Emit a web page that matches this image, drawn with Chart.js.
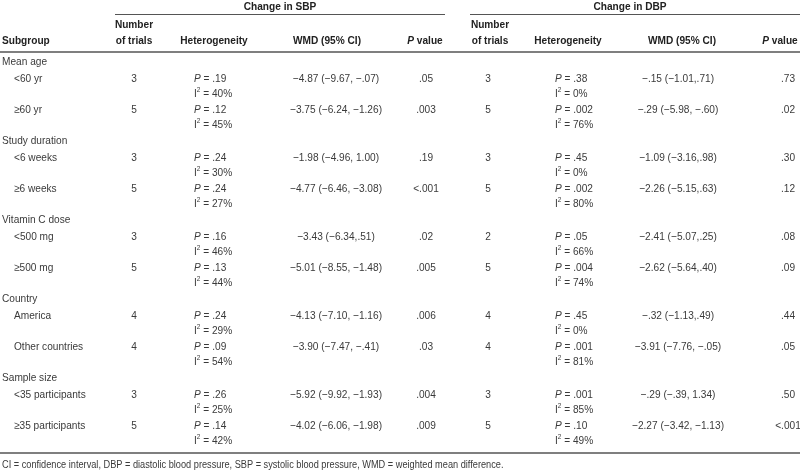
<!DOCTYPE html>
<html>
<head>
<meta charset="utf-8">
<script src="https://cdn.jsdelivr.net/npm/chart.js@4"></script>
<style>
  html, body { margin: 0; padding: 0; background: #fff; }
  #wrap { width: 800px; height: 472px; position: relative; }
</style>
</head>
<body>
<div id="wrap"><canvas id="chart"></canvas></div>
<script>
'use strict';

// table content
const groups = ['Mean age', 'Study duration', 'Vitamin C dose', 'Country', 'Sample size'];
const subgroups = ['<60 yr', '≥60 yr', '<6 weeks', '≥6 weeks', '<500 mg', '≥500 mg',
    'America', 'Other countries', '<35 participants', '≥35 participants'];

const sbpTrials = [3, 5, 3, 5, 3, 5, 4, 4, 3, 5];
const sbpHetP = ['.19', '.12', '.24', '.24', '.16', '.13', '.24', '.09', '.26', '.14'];
const sbpI2 = [40, 45, 30, 27, 46, 44, 29, 54, 25, 42];
const sbpWmd = [-4.87, -3.75, -1.98, -4.77, -3.43, -5.01, -4.13, -3.90, -5.92, -4.02];
const sbpLow = [-9.67, -6.24, -4.96, -6.46, -6.34, -8.55, -7.10, -7.47, -9.92, -6.06];
const sbpHigh = [-0.07, -1.26, 1.00, -3.08, 0.51, -1.48, -1.16, -0.41, -1.93, -1.98];
const sbpP = ['.05', '.003', '.19', '<.001', '.02', '.005', '.006', '.03', '.004', '.009'];

const dbpTrials = [3, 5, 3, 5, 2, 5, 4, 4, 3, 5];
const dbpHetP = ['.38', '.002', '.45', '.002', '.05', '.004', '.45', '.001', '.001', '.10'];
const dbpI2 = [0, 76, 0, 80, 66, 74, 0, 81, 85, 49];
const dbpWmd = [-0.15, -0.29, -1.09, -2.26, -2.41, -2.62, -0.32, -3.91, -0.29, -2.27];
const dbpLow = [-1.01, -5.98, -3.16, -5.15, -5.07, -5.64, -1.13, -7.76, -0.39, -3.42];
const dbpHigh = [0.71, -0.60, 0.98, 0.63, 0.25, 0.40, 0.49, -0.05, 1.34, -1.13];
const dbpP = ['.73', '.02', '.30', '.12', '.08', '.09', '.44', '.05', '.50', '<.001'];

const footnote = 'CI = confidence interval, DBP = diastolic blood pressure, SBP = systolic blood pressure, WMD = weighted mean difference.';

const FONT = '"Liberation Sans Narrow", "Arial Narrow", sans-serif';
const bodyFont = '11px ' + FONT;
const italFont = 'italic 11px ' + FONT;
const boldFont = 'bold 11px ' + FONT;
const boldItal = 'italic bold 11px ' + FONT;
const supFont = '7px ' + FONT;
const SX = 0.92; // extra horizontal squeeze, the print face is condensed

function num(v) {
    let s = Math.abs(v).toFixed(2);
    if (s.startsWith('0')) s = s.slice(1);
    return (v < 0 ? '−' : '') + s;
}
function wmdText(m, lo, hi) {
    const sep = (hi > 0 && hi < 1) ? ',' : ', ';
    return num(m) + ' (' + num(lo) + sep + num(hi) + ')';
}

// draw a run of differently styled pieces, squeezed by SX
function segs(ctx, parts, x, y, align) {
    if (typeof parts === 'string') parts = [{ t: parts, font: bodyFont }];
    let w = 0;
    parts.forEach(p => { ctx.font = p.font; w += ctx.measureText(p.t).width * SX; });
    let cx = align === 'center' ? x - w / 2 : (align === 'right' ? x - w : x);
    parts.forEach(p => {
        ctx.font = p.font;
        ctx.save();
        ctx.translate(cx, y + (p.dy || 0));
        ctx.scale(SX, 1);
        ctx.textAlign = 'left';
        ctx.fillText(p.t, 0, 0);
        ctx.restore();
        cx += ctx.measureText(p.t).width * SX;
    });
}

const tablePlugin = {
    id: 'table',
    afterDraw(chart) {
        const ctx = chart.ctx;
        const X = v => chart.scales.x.getPixelForValue(v);
        const Y = v => chart.scales.y.getPixelForValue(v);
        ctx.save();
        ctx.textBaseline = 'middle';

        // rules
        ctx.strokeStyle = '#555';
        ctx.lineWidth = 1;
        [[115, 445], [470, 800]].forEach(([a, b]) => {
            ctx.beginPath(); ctx.moveTo(X(a), Y(14.5)); ctx.lineTo(X(b), Y(14.5)); ctx.stroke();
        });
        ctx.lineWidth = 1.5;
        [52, 453].forEach(yy => {
            ctx.beginPath(); ctx.moveTo(X(0), Y(yy)); ctx.lineTo(X(800), Y(yy)); ctx.stroke();
        });

        // header
        ctx.fillStyle = '#222';
        const B = t => [{ t: t, font: boldFont }];
        segs(ctx, B('Change in SBP'), X(280), Y(7), 'center');
        segs(ctx, B('Change in DBP'), X(630), Y(7), 'center');
        segs(ctx, B('Subgroup'), X(2), Y(41), 'left');
        const cols = [
            { n: 134, h: 214, w: 327, p: 425 },
            { n: 490, h: 568, w: 682, p: 780 }
        ];
        cols.forEach(c => {
            segs(ctx, B('Number'), X(c.n), Y(25), 'center');
            segs(ctx, B('of trials'), X(c.n), Y(41), 'center');
            segs(ctx, B('Heterogeneity'), X(c.h), Y(41), 'center');
            segs(ctx, B('WMD (95% CI)'), X(c.w), Y(41), 'center');
            segs(ctx, [{ t: 'P', font: boldItal }, { t: ' value', font: boldFont }], X(c.p), Y(41), 'center');
        });

        // body
        ctx.fillStyle = '#3a3a3a';
        const sides = [
            { trials: sbpTrials, hetP: sbpHetP, i2: sbpI2, wmd: sbpWmd, lo: sbpLow, hi: sbpHigh, p: sbpP,
              xn: 134, xh: 194, xw: 336, xp: 426 },
            { trials: dbpTrials, hetP: dbpHetP, i2: dbpI2, wmd: dbpWmd, lo: dbpLow, hi: dbpHigh, p: dbpP,
              xn: 488, xh: 555, xw: 678, xp: 788 }
        ];
        groups.forEach((g, gi) => {
            const gy = 62 + gi * 79;
            segs(ctx, g, X(2), Y(gy), 'left');
            for (let k = 0; k < 2; k++) {
                const i = gi * 2 + k;
                const ry = gy + 17 + k * 31;
                segs(ctx, subgroups[i], X(14), Y(ry), 'left');
                sides.forEach(s => {
                    segs(ctx, String(s.trials[i]), X(s.xn), Y(ry), 'center');
                    segs(ctx, wmdText(s.wmd[i], s.lo[i], s.hi[i]), X(s.xw), Y(ry), 'center');
                    segs(ctx, s.p[i], X(s.xp), Y(ry), 'center');
                    segs(ctx, [{ t: 'P', font: italFont }, { t: ' = ' + s.hetP[i], font: bodyFont }], X(s.xh), Y(ry), 'left');
                    segs(ctx, [{ t: 'I', font: bodyFont }, { t: '2', font: supFont, dy: -4 },
                        { t: ' = ' + s.i2[i] + '%', font: bodyFont }], X(s.xh), Y(ry + 15), 'left');
                });
            }
        });

        // footnote
        segs(ctx, [{ t: footnote, font: '10px ' + FONT }], X(2), Y(465), 'left');
        ctx.restore();
    }
};

new Chart(document.getElementById('chart').getContext('2d'), {
    type: 'scatter',
    data: { datasets: [{ data: [], pointRadius: 0 }] },
    options: {
        responsive: true,
        maintainAspectRatio: false,
        animation: false,
        layout: { padding: 0 },
        plugins: { legend: { display: false }, tooltip: { enabled: false } },
        scales: {
            x: { type: 'linear', min: 0, max: 800, display: false },
            y: { type: 'linear', min: 0, max: 472, reverse: true, display: false }
        }
    },
    plugins: [tablePlugin]
});
</script>
</body>
</html>
